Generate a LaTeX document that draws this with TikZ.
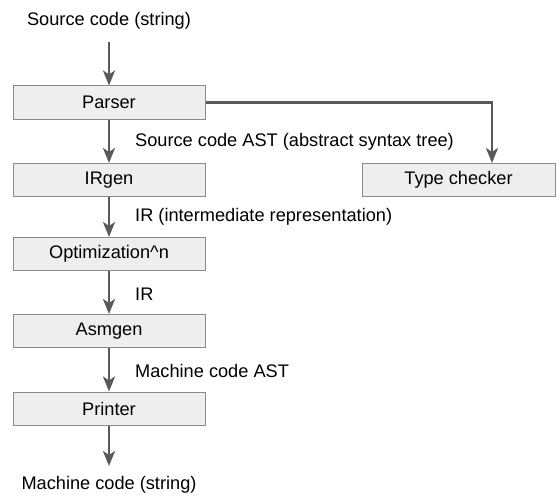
\documentclass[tikz,border=0pt]{standalone}
\usepackage{fontspec}
\setmainfont{Liberation Sans}
\usetikzlibrary{arrows.meta}
\definecolor{linegray}{HTML}{595959}
\definecolor{boxfill}{HTML}{EEEEEE}
\definecolor{boxline}{HTML}{8A8A8A}
\begin{document}
\begin{tikzpicture}[x=1pt,y=-1pt,
  stagebox/.style={draw=boxline,fill=boxfill,line width=1pt,minimum width=192pt,minimum height=33pt,inner sep=0pt,font=\fontsize{18.2}{21}\selectfont},
  plain/.style={inner sep=0pt,font=\fontsize{18.2}{21}\selectfont},
  flow/.style={draw=linegray,line width=2.8pt,-{Stealth[length=15pt,width=12pt,inset=4pt]}}]
\useasboundingbox (0,0) rectangle (560,503);
\node[plain] (src) at (109,21) {Source code (string)};
\node[stagebox] (parser) at (109,102.5) {Parser};
\node[stagebox] (irgen) at (109,180) {IRgen};
\node[stagebox] (opt) at (109,254) {Optimization\^{}n};
\node[stagebox] (asm) at (109,331) {Asmgen};
\node[stagebox] (printer) at (109,408.5) {Printer};
\node[stagebox,minimum width=193pt] (tc) at (458.5,180) {Type checker};
\node[plain] (out) at (109,485) {Machine code (string)};
\node[plain,anchor=west] (l1) at (135,142) {Source code AST (abstract syntax tree)};
\node[plain,anchor=west] (l2) at (135,217) {IR (intermediate representation)};
\node[plain,anchor=west] (l3) at (135,294) {IR};
\node[plain,anchor=west] (l4) at (135,371) {Machine code AST};
\coordinate (corner) at (492,102.5);
\draw[flow] (109,42) -- (parser.north);
\draw[flow] (parser) -- (irgen);
\draw[flow] (irgen) -- (opt);
\draw[flow] (opt) -- (asm);
\draw[flow] (asm) -- (printer);
\draw[flow] (printer.south) -- (109,466);
\draw[flow] (parser.east) -- (corner) -- (tc.north -| corner);
\end{tikzpicture}
\end{document}
